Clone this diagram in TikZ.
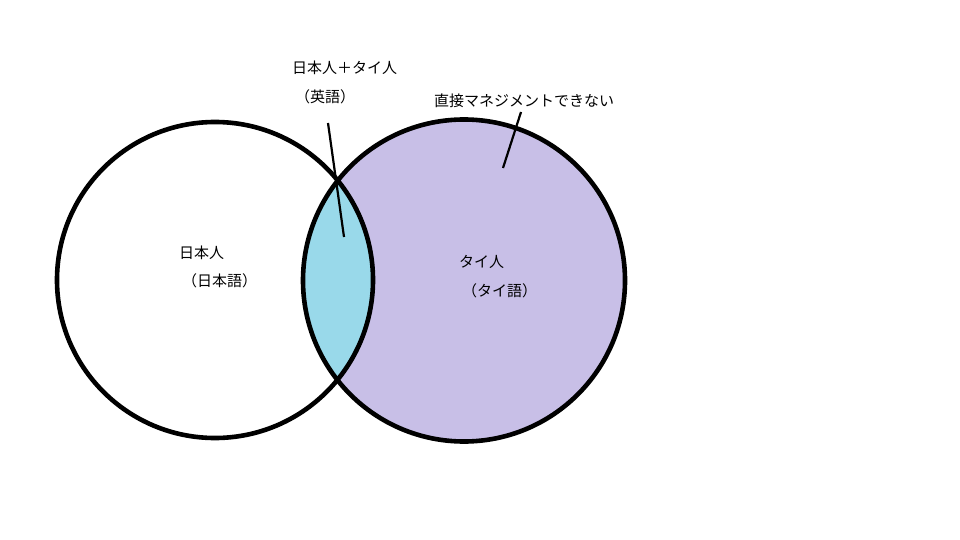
\documentclass[tikz,border=0pt]{standalone}
\usepackage{fontspec}
\newfontfamily\jpfont{Noto Sans CJK JP}
\definecolor{lav}{HTML}{C8BFE7}
\definecolor{ltblue}{HTML}{99D9EA}
\begin{document}
\begin{tikzpicture}[x=1pt,y=-1pt,
  lbl/.style={font=\jpfont\fontsize{15}{18}\selectfont, inner sep=0pt, anchor=west},
  ring/.style={line width=4.6pt},
  pointer/.style={line width=2.2pt}]
\useasboundingbox (0,0) rectangle (960,540);
\fill[white] (0,0) rectangle (960,540);
% circles
\coordinate (cl) at (215,280);
\coordinate (cr) at (464,280.5);
\fill[lav] (cr) circle[radius=161];
\begin{scope}
  \clip (cl) circle[radius=158];
  \fill[ltblue] (cr) circle[radius=161];
\end{scope}
\draw[ring] (cl) circle[radius=158];
\draw[ring] (cr) circle[radius=161];
% labels
\node[lbl] (both) at (292,68) {日本人＋タイ人};
\node[lbl] (eng) at (295,97) {（英語）};
\node[lbl] (nomg) at (434,101) {直接マネジメントできない};
\node[lbl] (jp) at (179,253) {日本人};
\node[lbl] (jpl) at (182,281) {（日本語）};
\node[lbl] (th) at (459,262) {タイ人};
\node[lbl] (thl) at (462,291) {（タイ語）};
% pointers
\coordinate (p1a) at (328,123);
\coordinate (p1b) at (344,237);
\coordinate (p2a) at (521,112);
\coordinate (p2b) at (503,168);
\draw[pointer] (p1a) -- (p1b);
\draw[pointer] (p2a) -- (p2b);
\end{tikzpicture}
\end{document}
